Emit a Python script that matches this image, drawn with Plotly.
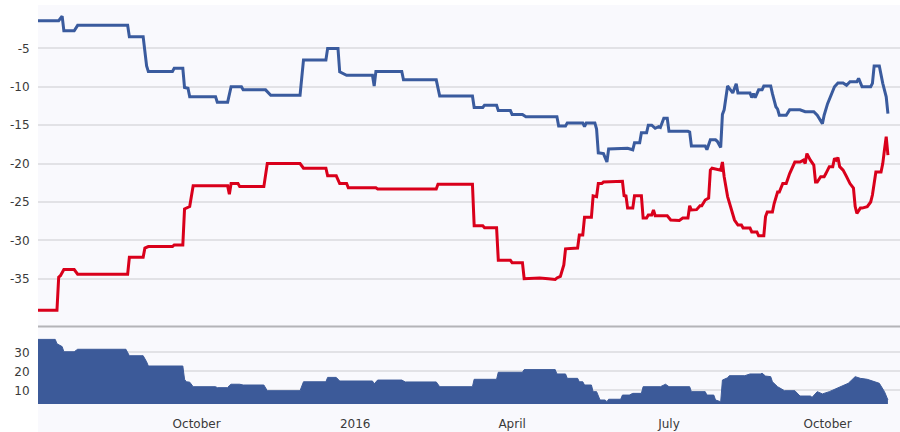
import plotly.graph_objects as go

# ---- blue series (upper line) ----
blue_dates = [
    "2015-07-01", "2015-07-13", "2015-07-15", "2015-07-16", "2015-07-22", "2015-07-24",
    "2015-08-22", "2015-08-23", "2015-08-31", "2015-09-02", "2015-09-03", "2015-09-17",
    "2015-09-18", "2015-09-23", "2015-09-24", "2015-09-26", "2015-09-27", "2015-10-12",
    "2015-10-13", "2015-10-19", "2015-10-21", "2015-10-27", "2015-10-28", "2015-11-10",
    "2015-11-13", "2015-11-30", "2015-12-02", "2015-12-15", "2015-12-16", "2015-12-22",
    "2015-12-23", "2015-12-27", "2016-01-11", "2016-01-12", "2016-01-13", "2016-01-28",
    "2016-01-29", "2016-02-17", "2016-02-19", "2016-03-09", "2016-03-10", "2016-03-15",
    "2016-03-16", "2016-03-23", "2016-03-24", "2016-03-31", "2016-04-01", "2016-04-07",
    "2016-04-09", "2016-04-27", "2016-04-28", "2016-05-02", "2016-05-03", "2016-05-12",
    "2016-05-13", "2016-05-14", "2016-05-19", "2016-05-20", "2016-05-21", "2016-05-24",
    "2016-05-26", "2016-05-27", "2016-06-07", "2016-06-10", "2016-06-11", "2016-06-14",
    "2016-06-15", "2016-06-18", "2016-06-19", "2016-06-21", "2016-06-23", "2016-06-25",
    "2016-06-26", "2016-06-28", "2016-06-30", "2016-07-01", "2016-07-12", "2016-07-13",
    "2016-07-14", "2016-07-22", "2016-07-23", "2016-07-25", "2016-07-28", "2016-07-29",
    "2016-07-31", "2016-08-01", "2016-08-02", "2016-08-04", "2016-08-05", "2016-08-07",
    "2016-08-09", "2016-08-10", "2016-08-17", "2016-08-18", "2016-08-19", "2016-08-20",
    "2016-08-22", "2016-08-24", "2016-08-25", "2016-08-29", "2016-08-30", "2016-09-01",
    "2016-09-02", "2016-09-03", "2016-09-07", "2016-09-09", "2016-09-15", "2016-09-18",
    "2016-09-23", "2016-09-25", "2016-09-28", "2016-09-29", "2016-10-01", "2016-10-04",
    "2016-10-05", "2016-10-07", "2016-10-10", "2016-10-12", "2016-10-14", "2016-10-18",
    "2016-10-19", "2016-10-21", "2016-10-26", "2016-10-27", "2016-10-28", "2016-10-31",
    "2016-11-02", "2016-11-04", "2016-11-05",
]
blue_values = [
    -1.4, -1.4, -0.8, -2.7, -2.7, -2.0,
    -2.0, -3.5, -3.5, -7.3, -8.0, -8.0,
    -7.6, -7.6, -10.1, -10.2, -11.3, -11.3,
    -12.0, -12.0, -10.0, -10.0, -10.4, -10.4,
    -11.1, -11.1, -6.5, -6.5, -5.0, -5.0,
    -8.05, -8.5, -8.5, -9.9, -8.0, -8.0,
    -9.1, -9.1, -11.2, -11.2, -12.7, -12.7,
    -12.4, -12.4, -13.1, -13.1, -13.6, -13.6,
    -13.9, -13.9, -15.1, -15.1, -14.7, -14.7,
    -15.2, -14.7, -14.7, -15.5, -18.6, -18.7,
    -19.8, -18.1, -18.0, -18.2, -17.3, -17.3,
    -16.0, -16.0, -15.0, -15.0, -15.4, -15.2,
    -15.3, -14.1, -14.1, -15.8, -15.8, -15.9,
    -17.7, -17.7, -18.2, -16.9, -16.9, -17.1,
    -17.9, -13.6, -13.0, -9.9, -10.2, -10.8,
    -9.6, -10.8, -10.8, -11.4, -10.9, -11.4,
    -10.4, -10.4, -9.9, -9.9, -10.9, -12.6,
    -12.9, -13.7, -13.7, -13.0, -13.0, -13.25,
    -13.25, -13.7, -14.8, -13.7, -12.2, -10.65,
    -10.0, -9.5, -9.5, -9.8, -9.35, -9.35,
    -8.9, -10.0, -10.0, -9.55, -7.3, -7.3,
    -9.55, -11.3, -13.5,
]

# ---- red series (lower line) ----
red_dates = [
    "2015-07-01", "2015-07-12", "2015-07-13", "2015-07-14", "2015-07-16", "2015-07-22",
    "2015-07-24", "2015-08-22", "2015-08-23", "2015-08-31", "2015-09-01", "2015-09-03",
    "2015-09-17", "2015-09-18", "2015-09-23", "2015-09-24", "2015-09-27", "2015-09-29",
    "2015-10-19", "2015-10-20", "2015-10-21", "2015-10-25", "2015-10-26", "2015-11-09",
    "2015-11-11", "2015-11-30", "2015-12-02", "2015-12-15", "2015-12-16", "2015-12-21",
    "2015-12-23", "2015-12-27", "2015-12-28", "2016-01-13", "2016-01-14", "2016-02-17",
    "2016-02-18", "2016-03-09", "2016-03-10", "2016-03-15", "2016-03-16", "2016-03-23",
    "2016-03-24", "2016-03-31", "2016-04-01", "2016-04-07", "2016-04-08", "2016-04-17",
    "2016-04-22", "2016-04-26", "2016-04-27", "2016-04-29", "2016-05-01", "2016-05-02",
    "2016-05-09", "2016-05-10", "2016-05-12", "2016-05-13", "2016-05-17", "2016-05-18",
    "2016-05-20", "2016-05-21", "2016-05-23", "2016-05-24", "2016-06-04", "2016-06-05",
    "2016-06-06", "2016-06-07", "2016-06-10", "2016-06-11", "2016-06-15", "2016-06-16",
    "2016-06-18", "2016-06-19", "2016-06-21", "2016-06-22", "2016-06-23", "2016-06-30",
    "2016-07-02", "2016-07-07", "2016-07-09", "2016-07-12", "2016-07-13", "2016-07-14",
    "2016-07-17", "2016-07-19", "2016-07-20", "2016-07-22", "2016-07-24", "2016-07-25",
    "2016-07-26", "2016-07-29", "2016-07-31", "2016-08-01", "2016-08-02", "2016-08-04",
    "2016-08-07", "2016-08-08", "2016-08-10", "2016-08-12", "2016-08-13", "2016-08-17",
    "2016-08-18", "2016-08-21", "2016-08-22", "2016-08-25", "2016-08-26", "2016-08-27",
    "2016-08-30", "2016-08-31", "2016-09-02", "2016-09-03", "2016-09-05", "2016-09-07",
    "2016-09-09", "2016-09-12", "2016-09-15", "2016-09-17", "2016-09-18", "2016-09-19",
    "2016-09-21", "2016-09-23", "2016-09-24", "2016-09-25", "2016-09-27", "2016-09-29",
    "2016-09-30", "2016-10-02", "2016-10-04", "2016-10-05", "2016-10-06", "2016-10-07",
    "2016-10-08", "2016-10-10", "2016-10-12", "2016-10-14", "2016-10-16", "2016-10-17",
    "2016-10-18", "2016-10-20", "2016-10-21", "2016-10-24", "2016-10-26", "2016-10-27",
    "2016-10-28", "2016-10-29", "2016-11-01", "2016-11-02", "2016-11-03", "2016-11-04",
    "2016-11-05",
]
red_values = [
    -39.1, -39.1, -34.8, -34.6, -33.8, -33.8,
    -34.4, -34.4, -32.2, -32.2, -31.0, -30.8,
    -30.8, -30.6, -30.6, -25.9, -25.6, -22.9,
    -22.9, -24.0, -22.6, -22.6, -23.0, -23.0,
    -20.0, -20.0, -20.6, -20.6, -21.6, -21.6,
    -22.6, -22.6, -23.15, -23.15, -23.3, -23.3,
    -22.7, -22.7, -28.1, -28.1, -28.35, -28.35,
    -32.6, -32.6, -32.9, -32.9, -35.0, -34.9,
    -35.0, -35.1, -34.9, -34.7, -33.2, -31.1,
    -31.0, -29.3, -29.3, -27.0, -27.0, -24.2,
    -24.3, -22.6, -22.6, -22.4, -22.3, -24.3,
    -24.1, -25.8, -25.8, -24.2, -24.2, -27.1,
    -27.1, -26.7, -26.7, -26.05, -26.8, -26.8,
    -27.35, -27.4, -27.1, -27.1, -25.5, -26.05,
    -26.0, -25.5, -25.5, -24.75, -24.5, -20.85,
    -20.6, -20.7, -20.85, -19.8, -21.7, -24.3,
    -26.5, -27.35, -28.0, -28.0, -28.4, -28.4,
    -28.9, -28.9, -29.4, -29.4, -26.9, -26.3,
    -26.3, -25.2, -23.7, -23.7, -22.6, -22.6,
    -21.3, -19.8, -19.8, -19.55, -20.0, -18.7,
    -19.55, -20.2, -22.4, -22.4, -21.7, -21.7,
    -21.3, -20.4, -20.4, -19.3, -19.55, -19.2,
    -20.4, -20.85, -21.7, -22.6, -23.2, -25.6,
    -26.5, -25.8, -25.8, -25.6, -25.0, -24.1,
    -22.6, -21.1, -21.1, -20.0, -18.2, -16.5,
    -18.9,
]

# ---- spread series (lower panel area) ----
spread_dates = [
    "2015-07-01", "2015-07-11", "2015-07-12", "2015-07-15", "2015-07-16", "2015-07-22",
    "2015-07-24", "2015-08-21", "2015-08-23", "2015-08-31", "2015-09-02", "2015-09-03",
    "2015-09-23", "2015-09-24", "2015-09-25", "2015-09-27", "2015-09-29", "2015-10-12",
    "2015-10-13", "2015-10-19", "2015-10-20", "2015-10-21", "2015-10-26", "2015-10-28",
    "2015-11-09", "2015-11-11", "2015-11-30", "2015-12-02", "2015-12-15", "2015-12-16",
    "2015-12-21", "2015-12-23", "2016-01-11", "2016-01-12", "2016-01-14", "2016-01-28",
    "2016-01-30", "2016-02-17", "2016-02-19", "2016-03-09", "2016-03-10", "2016-03-23",
    "2016-03-24", "2016-04-07", "2016-04-08", "2016-04-26", "2016-04-27", "2016-05-02",
    "2016-05-03", "2016-05-09", "2016-05-10", "2016-05-12", "2016-05-13", "2016-05-17",
    "2016-05-18", "2016-05-20", "2016-05-22", "2016-05-25", "2016-05-26", "2016-05-27",
    "2016-06-03", "2016-06-04", "2016-06-08", "2016-06-10", "2016-06-15", "2016-06-16",
    "2016-06-26", "2016-06-29", "2016-07-01", "2016-07-13", "2016-07-14", "2016-07-22",
    "2016-07-23", "2016-07-27", "2016-07-28", "2016-07-31", "2016-08-01", "2016-08-04",
    "2016-08-05", "2016-08-14", "2016-08-17", "2016-08-23", "2016-08-24", "2016-08-26",
    "2016-08-29", "2016-08-30", "2016-09-02", "2016-09-06", "2016-09-12", "2016-09-15",
    "2016-09-21", "2016-09-22", "2016-09-25", "2016-09-28", "2016-10-02", "2016-10-08",
    "2016-10-13", "2016-10-17", "2016-10-20", "2016-10-24", "2016-10-29", "2016-10-31",
    "2016-11-03", "2016-11-05",
]
spread_values = [
    36.8, 36.8, 34.5, 33.0, 30.3, 30.3,
    31.6, 31.6, 28.2, 28.2, 25.0, 22.8,
    22.8, 15.8, 14.5, 14.3, 11.9, 11.9,
    11.4, 11.4, 12.5, 13.2, 13.2, 12.8,
    12.8, 9.8, 9.8, 14.5, 14.5, 16.8,
    16.8, 14.9, 14.9, 13.4, 15.4, 15.4,
    14.4, 14.4, 11.9, 11.9, 15.8, 15.8,
    19.5, 19.5, 20.9, 20.9, 18.6, 18.6,
    16.3, 16.3, 14.5, 14.5, 12.8, 12.8,
    9.3, 9.3, 4.9, 4.9, 4.0, 5.3,
    5.3, 7.5, 7.5, 8.4, 8.4, 11.9,
    11.9, 13.2, 11.9, 11.9, 9.3, 9.3,
    7.5, 7.5, 4.9, 4.0, 15.4, 16.6,
    17.7, 17.7, 18.6, 18.6, 19.0, 17.5,
    17.2, 14.5, 11.9, 9.8, 9.8, 7.0,
    7.0, 6.3, 9.3, 8.1, 9.3, 11.9,
    13.7, 17.2, 16.3, 15.8, 14.5, 13.7,
    9.3, 4.9,
]

top_ticks = [-35, -30, -25, -20, -15, -10, -5]
top_tick_text = ["-35", "-30", "-25", "-20", "-15", "-10", "-5"]
bottom_ticks = [10, 20, 30]
bottom_tick_text = ["10", "20", "30"]
x_tick_dates = ["2015-10-01", "2016-01-01", "2016-04-01", "2016-07-01", "2016-10-01"]
x_tick_text = ["October", "2016", "April", "July", "October"]

BLUE = "#3a5b9e"
RED = "#d9001b"
AREA = "#3c5a99"
BG = "#f9f9fd"
GRID = "#e2e2e6"
FONT = dict(family="DejaVu Sans, Verdana, sans-serif", size=12, color="#3a3a3a")

W, H = 900, 432
ML, MR, MT, MB = 38, 0, 5, 28
plot_h = H - MT - MB
sep_px = 326  # separator line, px from top
top_dom0 = (H - MB - sep_px) / plot_h
bot_dom1 = (H - MB - 328) / plot_h

fig = go.Figure()
fig.add_trace(go.Scatter(x=blue_dates, y=blue_values, mode="lines",
                         line=dict(color=BLUE, width=3), xaxis="x", yaxis="y",
                         showlegend=False))
fig.add_trace(go.Scatter(x=red_dates, y=red_values, mode="lines",
                         line=dict(color=RED, width=3), xaxis="x", yaxis="y",
                         showlegend=False))
fig.add_trace(go.Scatter(x=spread_dates, y=spread_values, mode="lines",
                         fill="tozeroy", fillcolor=AREA,
                         line=dict(color=AREA, width=1), xaxis="x", yaxis="y2",
                         showlegend=False))

fig.update_layout(
    width=W, height=H,
    margin=dict(l=ML, r=MR, t=MT, b=MB, autoexpand=False),
    paper_bgcolor="white",
    plot_bgcolor=BG,
    font=FONT,
    xaxis=dict(
        anchor="y2", type="date", automargin=False,
        range=["2015-07-01", "2016-11-12"],
        tickvals=x_tick_dates, ticktext=x_tick_text,
        showgrid=False, zeroline=False, showline=False,
        ticks="outside", ticklen=9, tickcolor="rgba(0,0,0,0)",
        tickfont=FONT,
    ),
    yaxis=dict(
        domain=[top_dom0, 1], anchor="x", automargin=False,
        range=[-41.15, 0.65],
        tickvals=top_ticks, ticktext=top_tick_text,
        showgrid=True, gridcolor=GRID, gridwidth=1.5,
        zeroline=False, showline=False,
        ticks="outside", ticklen=5, tickcolor="rgba(0,0,0,0)",
        tickfont=FONT,
    ),
    yaxis2=dict(
        domain=[0, bot_dom1], anchor="x", automargin=False,
        range=[2.8, 42.8],
        tickvals=bottom_ticks, ticktext=bottom_tick_text,
        showgrid=True, gridcolor=GRID, gridwidth=1.5,
        zeroline=False, showline=False,
        ticks="outside", ticklen=5, tickcolor="rgba(0,0,0,0)",
        tickfont=FONT,
    ),
    shapes=[
        dict(type="rect", xref="paper", yref="paper",
             x0=0, x1=1, y0=-MB / plot_h, y1=1,
             fillcolor=BG, line=dict(width=0), layer="below"),
        dict(type="line", xref="paper", yref="paper",
             x0=0, x1=1, y0=(H - MB - sep_px - 0.5) / plot_h, y1=(H - MB - sep_px - 0.5) / plot_h,
             line=dict(color="#b4b4b8", width=2), layer="above"),
    ],
)

fig.write_html(
    "out.html",
    config={"displayModeBar": False},
    post_script="document.body.style.margin='0';document.body.style.overflow='hidden';",
)
